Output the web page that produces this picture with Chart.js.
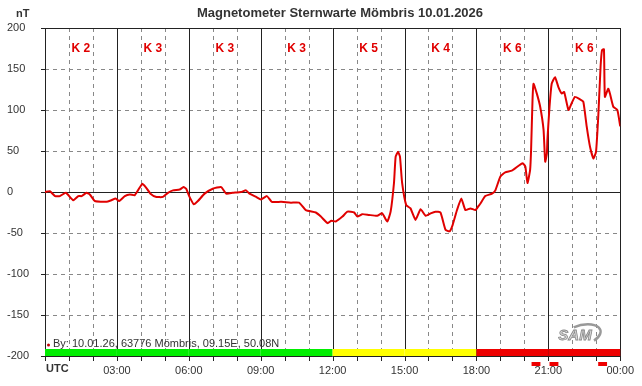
<!DOCTYPE html>
<html>
<head>
<meta charset="utf-8">
<script src="https://cdn.jsdelivr.net/npm/chart.js@4"></script>
<style>
html,body{margin:0;padding:0;background:#fff;}
canvas{display:block;}
</style>
</head>
<body>
<canvas id="c" width="642" height="386"></canvas>
<script>
// ---- data (hours UTC, nT) ----
const hours = [0.0,0.2,0.42,0.62,0.87,1.18,1.39,1.53,1.73,1.87,2.08,2.57,2.77,2.95,3.09,3.33,3.54,3.74,3.88,4.06,4.2,4.4,4.65,4.92,5.13,5.34,5.62,5.78,5.89,6.03,6.21,6.38,6.66,7.0,7.35,7.56,7.83,8.18,8.39,8.53,8.81,9.01,9.26,9.46,9.85,10.26,10.6,10.88,11.3,11.51,11.79,11.95,12.13,12.41,12.62,12.9,13.03,13.24,13.52,13.86,14.07,14.28,14.42,14.56,14.63,14.73,14.81,14.9,15.07,15.25,15.46,15.67,15.88,16.09,16.29,16.5,16.71,16.88,17.01,17.19,17.37,17.54,17.75,17.96,18.09,18.17,18.37,18.65,18.79,19.0,19.2,19.48,19.76,19.93,20.04,20.13,20.24,20.28,20.34,20.38,20.52,20.66,20.8,20.87,20.94,20.96,21.05,21.14,21.28,21.42,21.56,21.66,21.84,21.97,22.11,22.32,22.46,22.6,22.74,22.88,22.99,23.09,23.18,23.24,23.32,23.36,23.5,23.57,23.71,23.88,24.0];
const nT = [0,1,-5,-5,-1,-10,-5,-5,-1,-3,-11,-12,-10,-8,-11,-5,-3,-4,2,10,6,-2,-6,-6,-1,2,3,6,4,-6,-15,-11,-2,4,6,-2,-1,0,2,-2,-6,-9,-5,-12,-12,-13,-13,-22,-25,-30,-38,-35,-36,-30,-24,-25,-30,-27,-28,-29,-26,-36,-24,11,43,49,43,11,-16,-20,-34,-21,-29,-26,-24,-25,-46,-48,-40,-22,-8,-22,-20,-22,-17,-14,-5,-2,2,19,24,26,32,35,31,11,27,51,112,132,120,104,76,37,47,63,104,132,140,128,120,122,100,108,116,113,110,80,55,41,49,96,153,173,174,116,126,120,104,100,80];
const xTickHours = [0,3,6,9,12,15,18,21,24];
const xTickLabels = ['UTC','03:00','06:00','09:00','12:00','15:00','18:00','21:00','00:00'];
const kValues = [2,3,3,3,5,4,6,6];           // K index per 3-hour block
const stormMarks = [20.3, 21.05, 23.08];      // start hours of storm markers
const titleText = 'Magnetometer Sternwarte Mömbris 10.01.2026';
const infoText = 'By: 10.01.26, 63776 Mömbris, 09.15E, 50.08N';

const FONT = 'Arial, "Liberation Sans", sans-serif';
function kColor(k){ return k <= 3 ? '#00ee00' : (k <= 5 ? '#ffff00' : '#ee0000'); }

const deco = {
  id: 'deco',
  beforeDatasetsDraw(chart){
    const {ctx, chartArea:a, scales:{x, y}} = chart;
    ctx.save();
    ctx.lineWidth = 1;
    // dashed grid
    ctx.strokeStyle = '#888';
    ctx.setLineDash([4,4]);
    for (let v = -150; v <= 150; v += 50){
      if (v === 0) continue;
      const py = Math.round(y.getPixelForValue(v)) + 0.5;
      ctx.beginPath(); ctx.moveTo(a.left, py); ctx.lineTo(a.right, py); ctx.stroke();
    }
    for (let h = 1; h < 24; h++){
      if (h % 3 === 0) continue;
      const px = Math.round(x.getPixelForValue(h)) + 0.5;
      ctx.beginPath(); ctx.moveTo(px, a.top); ctx.lineTo(px, a.bottom); ctx.stroke();
    }
    ctx.setLineDash([]);
    // solid lines
    ctx.strokeStyle = '#222';
    [200, 0, -200].forEach(v => {
      const py = Math.round(y.getPixelForValue(v)) + 0.5;
      ctx.beginPath(); ctx.moveTo(a.left, py); ctx.lineTo(a.right, py); ctx.stroke();
    });
    for (let h = 0; h <= 24; h += 3){
      const px = Math.round(x.getPixelForValue(h)) + 0.5;
      ctx.beginPath(); ctx.moveTo(px, a.top); ctx.lineTo(px, a.bottom); ctx.stroke();
    }
    // left tick marks
    for (let v = -200; v <= 200; v += 50){
      const py = Math.round(y.getPixelForValue(v)) + 0.5;
      ctx.beginPath(); ctx.moveTo(a.left - 4, py); ctx.lineTo(a.left, py); ctx.stroke();
    }
    // bottom tick marks
    for (let h = 0; h <= 24; h++){
      const px = Math.round(x.getPixelForValue(h)) + 0.5;
      ctx.beginPath(); ctx.moveTo(px, a.bottom); ctx.lineTo(px, a.bottom + 5); ctx.stroke();
    }
    ctx.restore();
  },
  afterDatasetsDraw(chart){
    const {ctx, chartArea:a, scales:{x, y}} = chart;
    ctx.save();
    // K index color bar
    const by0 = y.getPixelForValue(-200);
    kValues.forEach((k, i) => {
      const x0 = x.getPixelForValue(i*3), x1 = x.getPixelForValue(i*3+3);
      ctx.fillStyle = kColor(k);
      ctx.fillRect(x0, by0 - 7, x1 - x0, 7);
    });
    // storm markers
    ctx.fillStyle = '#ee0000';
    stormMarks.forEach(h => {
      const x0 = x.getPixelForValue(h), x1 = x.getPixelForValue(h + 0.37);
      ctx.fillRect(x0, by0 + 6, x1 - x0, 4);
    });
    // K labels
    ctx.fillStyle = '#e00000';
    ctx.font = 'bold 12px ' + FONT;
    ctx.textAlign = 'center'; ctx.textBaseline = 'middle';
    kValues.forEach((k, i) => {
      ctx.fillText('K ' + k, x.getPixelForValue(i*3 + 1.5), 49);
    });
    // title
    ctx.fillStyle = '#333';
    ctx.font = 'bold 13px ' + FONT;
    ctx.fillText(titleText, 340, 13);
    // unit
    ctx.textAlign = 'left';
    ctx.font = 'bold 11px ' + FONT;
    ctx.fillText('nT', 16, 14);
    // UTC label
    ctx.fillText('UTC', a.left + 1, 369);
    // info text
    ctx.font = '11px ' + FONT;
    ctx.fillStyle = '#333';
    ctx.fillText(infoText, 53, 344);
    ctx.fillStyle = '#c00000';
    ctx.beginPath(); ctx.arc(48.5, 345, 1.5, 0, Math.PI*2); ctx.fill();
    // SAM logo
    ctx.font = 'bold italic 15px ' + FONT;
    ctx.fillStyle = '#d8d8d8';
    ctx.strokeStyle = '#888';
    ctx.lineWidth = 0.8;
    ctx.textAlign = 'center';
    ctx.fillText('SAM', 575, 336);
    ctx.strokeText('SAM', 575, 336);
    ctx.strokeStyle = '#999';
    ctx.lineWidth = 2.5;
    ctx.beginPath();
    ctx.ellipse(582, 335, 19, 10, -0.25, -1.9, 1.0);
    ctx.stroke();
    ctx.restore();
  }
};

new Chart(document.getElementById('c'), {
  type: 'line',
  data: {
    datasets: [{
      data: hours.map((h, i) => ({x: h, y: nT[i]})),
      borderColor: '#e00000',
      borderWidth: 2,
      pointRadius: 0,
      tension: 0.15,
      fill: false
    }]
  },
  options: {
    responsive: false,
    animation: false,
    layout: {padding: {left: 7, right: 20, top: 28, bottom: 0}},
    plugins: {legend: {display: false}, tooltip: {enabled: false}, title: {display: false}},
    scales: {
      x: {
        type: 'linear', min: 0, max: 24,
        grid: {display: false, drawTicks: false},
        border: {display: false},
        afterBuildTicks(s){ s.ticks = xTickHours.map(v => ({value: v})); },
        ticks: {
          autoSkip: false, maxRotation: 0, padding: 8,
          color: '#333', font: {size: 11, family: FONT},
          callback: (v) => { const i = xTickHours.indexOf(v); return i > 0 ? xTickLabels[i] : ''; }
        },
        afterFit(s){ s.height = 30; }
      },
      y: {
        min: -200, max: 200,
        grid: {display: false, drawTicks: false},
        border: {display: false},
        ticks: {stepSize: 50, crossAlign: 'far', padding: 4, color: '#333', font: {size: 11, family: FONT}},
        afterFit(s){ s.width = 38; }
      }
    }
  },
  plugins: [deco]
});
</script>
</body>
</html>
